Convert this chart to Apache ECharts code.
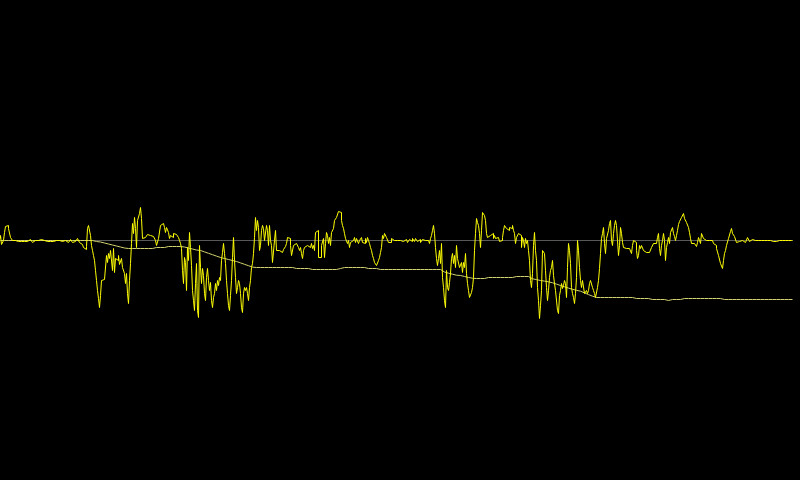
<!DOCTYPE html>
<html>
<head>
<meta charset="utf-8">
<script src="https://cdn.jsdelivr.net/npm/echarts@6/dist/echarts.min.js"></script>
<style>
html,body{margin:0;padding:0;background:#000;}
#chart{width:800px;height:480px;}
</style>
</head>
<body>
<div id="chart"></div>
<script>
// Raw signal (bright yellow), one sample per step
var signal = [
2,5,-4,-5,0,8,14,15,15,12,10,3,1,0,-1,0,0,-1,-1,0,
-2,-1,0,-2,-1,0,-3,-1,0,0,1,0,-1,-2,0,0,-1,-1,0,0,
0,1,-1,-1,0,0,-2,-1,0,0,-1,-2,-3,-1,-2,0,0,1,-1,0,
2,0,-1,-1,0,0,-1,-1,-2,0,0,1,-1,-2,-3,-1,-1,0,2,1,
-2,-3,-4,-5,-7,-8,-9,-6,12,15,14,5,-5,-10,-15,-20,-30,-40,-50,-58,
-67,-55,-40,-39,-39,-38,-38,-15,-22,-13,-18,-10,-12,-30,-8,-32,-18,-18,-20,-15,
-24,-22,-18,-27,-26,-33,-43,-33,-53,-63,-40,-23,-3,17,7,23,12,-7,20,22,
27,33,22,2,2,3,3,4,6,5,5,6,7,4,3,2,0,-5,-3,2,
3,15,14,17,16,13,8,13,12,8,2,5,7,3,7,6,6,6,7,3,
0,-3,-8,-30,-43,-17,-22,-50,-7,-20,8,-7,-25,-50,-60,-70,-43,-23,-70,-77,
-5,-27,-43,-28,-35,-53,-60,-37,-28,-40,-50,-42,-60,-67,-57,-53,-43,-50,-40,-45,
-37,-40,-20,-12,-3,-13,-23,-40,-53,-65,-70,-55,-40,-17,3,-20,-37,-53,-47,-40,
-43,-53,-67,-72,-53,-47,-50,-47,-53,-60,-47,-40,-27,-23,-13,3,23,10,20,13,
-10,-5,10,15,12,0,2,15,10,-5,15,0,-5,-22,-20,0,10,-10,-10,-10,
-10,-8,-12,-10,-9,-10,-6,-3,3,5,2,-5,-15,-15,-5,-3,-3,-3,-4,-7,
-10,-7,-13,-18,-10,-7,-5,-5,-7,-7,-7,-5,-3,-8,-5,-10,8,10,10,-17,
-15,-17,-5,-3,2,-17,-3,8,5,-3,3,-5,8,10,12,20,18,23,25,29,
28,28,20,15,12,7,2,0,-3,0,-7,-2,-3,0,-2,3,-2,2,0,-3,
0,-2,3,-2,0,-3,2,-2,3,0,-3,-7,-10,-15,-18,-22,-23,-25,-24,-20,
-17,-12,-7,5,2,7,8,3,5,-2,0,-2,2,2,0,-2,2,0,1,1,
0,1,2,-1,-1,0,1,2,-2,-1,1,0,-1,2,0,-1,2,1,-1,0,
1,-2,-1,1,0,0,-2,1,0,-1,-3,2,5,10,15,7,-7,-18,-25,-18,
-10,-23,-3,-37,-47,-60,-67,-30,-47,-50,-42,-33,-18,-13,-23,-15,-27,-5,-18,-17,
-27,-27,-22,-32,-22,-27,-13,-33,-43,-50,-57,-59,-52,-47,-37,-10,7,22,18,15,
7,-7,10,28,30,25,20,7,3,3,5,5,3,7,2,5,2,4,3,4,
-1,0,0,3,10,15,13,12,10,10,13,12,12,15,10,7,-3,3,5,7,
5,5,-7,3,0,-7,2,-3,0,-10,-20,-40,-47,-33,-5,8,-10,-20,-47,-60,
-78,-65,-50,-10,-12,-13,-30,-47,-60,-50,-37,-30,-27,-20,-35,-43,-50,-50,-70,-73,
-55,-50,-43,-48,-45,-40,-43,-57,-27,-3,-10,-23,-47,-53,-57,-63,-53,-37,0,-10,
-27,-40,-47,-40,-40,-53,-53,-50,-53,-50,-43,-40,-40,-47,-50,-53,-57,-57,-47,-40,
-28,-13,2,7,13,-3,-13,2,0,10,17,20,0,-5,7,15,20,15,0,-15,
-5,13,7,-2,-7,-8,-8,-8,-10,-8,-10,-7,-13,-5,0,2,-2,-10,-18,-15,
-5,-8,-5,-6,-10,-11,-12,-12,-10,-12,-13,-10,-7,-5,-3,-2,-3,-2,3,7,
-8,-15,-5,0,7,0,-20,-7,-2,3,-3,8,7,13,7,4,0,5,10,16,
19,19,23,25,27,22,22,18,16,13,8,2,-3,-2,-3,-2,-3,-6,-2,3,
0,-3,7,6,2,1,0,-1,1,0,-2,-1,0,1,-3,-3,-5,-8,-10,-15,
-17,-23,-25,-28,-20,-13,-10,-5,-3,2,4,9,12,7,6,4,4,-2,-1,-1,
0,-1,0,1,2,-2,0,0,3,2,-1,-1,1,1,0,0,-2,-1,0,1,
1,0,-1,1,0,-1,1,0,0,1,0,0,1,-1,0,0,-1,1,0,0,
1,0,0,1,0,0,0,0,0,0,0,0,0
];

// Slow trend (pale line), one sample every two signal steps
var trend = [
0,0,0,0,0,0,0,0,0,0,
0,0,0,0,0,0,0,0,0,0,
0,0,0,0,0,0,0,0,0,0,
0,0,0,0,0,0,0,0,0,0,
0,0,0,0,0,0,0,-0.5,-1,-1,
-1.5,-2,-2.5,-3,-3.5,-4,-4.5,-5,-5.5,-6,
-6.5,-7,-7.5,-8,-8,-8,-8,-8,-8,-8,
-8,-8,-8,-8,-8,-8,-8,-8,-7,-7,
-7,-7,-7,-7,-6,-6,-6,-6,-6,-6,
-6,-6,-6.5,-7,-7.5,-8,-8.5,-9,-9.5,-10,
-10,-10.7,-11.4,-12.1,-12.8,-13.5,-14.2,-14.9,-15.6,-16.3,
-17,-17.5,-18,-18.5,-19,-19.5,-20,-20.5,-21,-21.7,
-22.4,-23.1,-23.8,-24.5,-25.2,-25.9,-26.6,-27,-27,-27,
-27,-27,-27,-27,-27,-27,-27,-27,-27,-27,
-27,-27,-27,-27,-27,-27,-27,-28,-28,-28,
-28,-28,-28,-28,-28,-29,-29,-29,-29,-29,
-29,-29,-29,-29,-29,-29,-29,-29,-29,-28,
-28,-28,-27,-27,-27,-27,-27,-27,-27,-27,
-27,-27,-27,-28,-28,-28,-28,-28,-28,-28,
-29,-29,-29,-29,-29,-29,-29,-29,-29,-29,
-29,-29,-29,-29,-29,-29,-29,-29,-29,-29,
-29,-29,-29,-29,-29,-29,-29,-29,-29,-29,
-29,-30.5,-31.5,-32,-32.7,-33.2,-33.7,-34.2,-34.7,-35,
-35,-35.5,-36,-36.5,-37,-37.3,-37.7,-38,-38,-38,
-38,-38,-38,-37,-37,-37,-37,-37,-37,-37,
-37,-37,-37,-37,-37,-37,-37,-36,-36,-36,
-36,-36,-36,-36,-36,-36.5,-38.3,-38.7,-39.1,-39.6,
-40,-40.3,-40.6,-41,-41.3,-41.7,-42.3,-43,-43.6,-44.3,
-45,-45.7,-46.3,-47,-47.6,-48.3,-48.8,-49.3,-49.8,-50.2,
-50.7,-51.5,-52.4,-53.3,-54.1,-55,-55.7,-56.4,-57,-57,
-57,-57,-57,-57,-57,-57,-57,-57,-57,-57,
-57,-57,-57,-57,-57,-57,-57,-58,-58,-58,
-58,-58,-58,-58,-58,-59,-59,-59,-59,-59,
-59,-59,-59,-59,-60,-60,-59,-59,-59,-59,
-59,-59,-58,-58,-58,-58,-58,-58,-58,-58,
-58,-58,-58,-58,-58,-58,-58,-58,-58,-58,
-58,-58,-59,-59,-59,-59,-59,-59,-59,-59,
-59,-59,-59,-59,-59,-59,-59,-59,-59,-59,
-59,-59,-59,-59,-59,-59,-59,-59,-59,-59,
-59,-59,-59,-59,-59,-59,-59
];

// Axis extent; the only visible grid line is the zero baseline
var yRange = [-239.5, 240.5];
var yInterval = 239.5;
var splitColors = ['rgba(0,0,0,0)', '#595959', 'rgba(0,0,0,0)', 'rgba(0,0,0,0)'];

var signalSamples = [];
for (var i = 0; i < signal.length; i++) signalSamples.push(String(i));
var trendSamples = [];
for (var j = 0; j < trend.length; j++) trendSamples.push(String(j));

var chart = echarts.init(document.getElementById('chart'), null, {renderer: 'canvas'});
chart.setOption({
  backgroundColor: '#000000',
  animation: false,
  grid: {left: 0.5, right: 7.5, top: 0, bottom: 0, containLabel: false},
  xAxis: [
    {type: 'category', data: signalSamples, boundaryGap: false, show: false},
    {type: 'category', data: trendSamples, boundaryGap: false, show: false}
  ],
  yAxis: {
    type: 'value', min: yRange[0], max: yRange[1], interval: yInterval,
    axisLine: {show: false}, axisTick: {show: false}, axisLabel: {show: false},
    splitLine: {show: true, lineStyle: {color: splitColors, width: 1}}
  },
  series: [
    {
      type: 'line',
      xAxisIndex: 1,
      data: trend,
      symbol: 'none',
      z: 2,
      lineStyle: {color: '#d2d26e', width: 1}
    },
    {
      type: 'line',
      xAxisIndex: 0,
      data: signal,
      step: 'start',
      symbol: 'none',
      z: 3,
      lineStyle: {color: '#ffff00', width: 1}
    }
  ]
});
</script>
</body>
</html>
